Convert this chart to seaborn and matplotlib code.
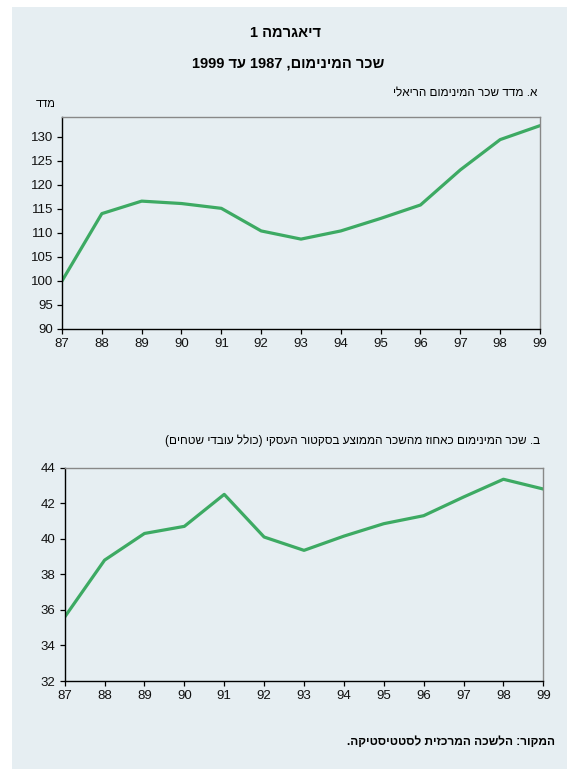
import re
import numpy as np
import pandas as pd
import matplotlib
matplotlib.use('Agg')
import matplotlib.pyplot as plt
import seaborn as sns
from matplotlib.patches import Rectangle

# data
years = [87, 88, 89, 90, 91, 92, 93, 94, 95, 96, 97, 98, 99]
real_index = [100, 114.0, 116.6, 116.1, 115.1, 110.4, 108.7, 110.4, 113.0, 115.8, 123.1, 129.4, 132.3]
pct_of_avg = [35.6, 38.8, 40.3, 40.7, 42.5, 40.1, 39.35, 40.15, 40.85, 41.3, 42.35, 43.35, 42.8]

top_yticks = [90, 95, 100, 105, 110, 115, 120, 125, 130]
bot_yticks = [32, 34, 36, 38, 40, 42, 44]

title1 = 'דיאגרמה 1'
title2 = 'שכר המינימום, 1987 עד 1999'
sub_a = 'א. מדד שכר המינימום הריאלי'
unit_a = 'מדד'
sub_b = 'ב. שכר המינימום כאחוז מהשכר הממוצע בסקטור העסקי (כולל עובדי שטחים)'
source = 'המקור: הלשכה המרכזית לסטטיסטיקה.'


def rtl(s):
    # matplotlib has no bidi: flip to visual order, keep numbers LTR
    r = s[::-1].translate(str.maketrans('()', ')('))
    return re.sub(r'\d+', lambda m: m.group(0)[::-1], r)


panel = '#E6EEF2'
green = '#3DAA63'

sns.set_style('ticks', {'axes.facecolor': panel})
plt.rcParams['font.family'] = ['Liberation Sans', 'DejaVu Sans']
plt.rcParams['text.color'] = 'black'
plt.rcParams['xtick.color'] = 'black'
plt.rcParams['ytick.color'] = 'black'

fig = plt.figure(figsize=(5.67, 7.69), dpi=100)
fig.patch.set_facecolor('white')
fig.patches.append(Rectangle((12 / 567, 0), 1, 1 - 7 / 769, transform=fig.transFigure,
                             facecolor=panel, edgecolor='none', zorder=-10))

ax1 = fig.add_axes([62 / 567, 1 - 329 / 769, (540 - 62) / 567, (329 - 117) / 769])
ax2 = fig.add_axes([64.7 / 567, 1 - 681 / 769, (543.3 - 64.7) / 567, (681 - 467.7) / 769])

df1 = pd.DataFrame({'year': years, 'value': real_index})
df2 = pd.DataFrame({'year': years, 'value': pct_of_avg})

for ax, df, ylim, yt in [(ax1, df1, (90, 134.1), top_yticks), (ax2, df2, (32, 44), bot_yticks)]:
    sns.lineplot(data=df, x='year', y='value', ax=ax, color=green, linewidth=2.3)
    ax.set_facecolor(panel)
    ax.set_xlim(87, 99)
    ax.set_ylim(*ylim)
    ax.set_xticks(years)
    ax.set_yticks(yt)
    ax.set_xlabel('')
    ax.set_ylabel('')
    ax.tick_params(labelsize=9.5, length=3.5, width=0.9, color='black', labelcolor='#111111', pad=3)
    for side in ['left', 'bottom']:
        ax.spines[side].set_color('black')
        ax.spines[side].set_linewidth(1)
    for side in ['top', 'right']:
        ax.spines[side].set_visible(True)
        ax.spines[side].set_color('#888888')
        ax.spines[side].set_linewidth(1)

fig.text(286 / 567, 1 - 33 / 769, rtl(title1), ha='center', va='center', fontsize=10.5, fontweight='bold')
fig.text(288 / 567, 1 - 63 / 769, rtl(title2), ha='center', va='center', fontsize=10.5, fontweight='bold')
fig.text(537 / 567, 1 - 93 / 769, rtl(sub_a), ha='right', va='center', fontsize=8.5)
fig.text(46 / 567, 1 - 104 / 769, rtl(unit_a), ha='center', va='center', fontsize=8)
fig.text(540 / 567, 1 - 441 / 769, rtl(sub_b), ha='right', va='center', fontsize=8.5)
fig.text(555 / 567, 1 - 742 / 769, rtl(source), ha='right', va='center', fontsize=8.6, fontweight='bold')

fig.savefig('out.png', dpi=100, facecolor='white')
